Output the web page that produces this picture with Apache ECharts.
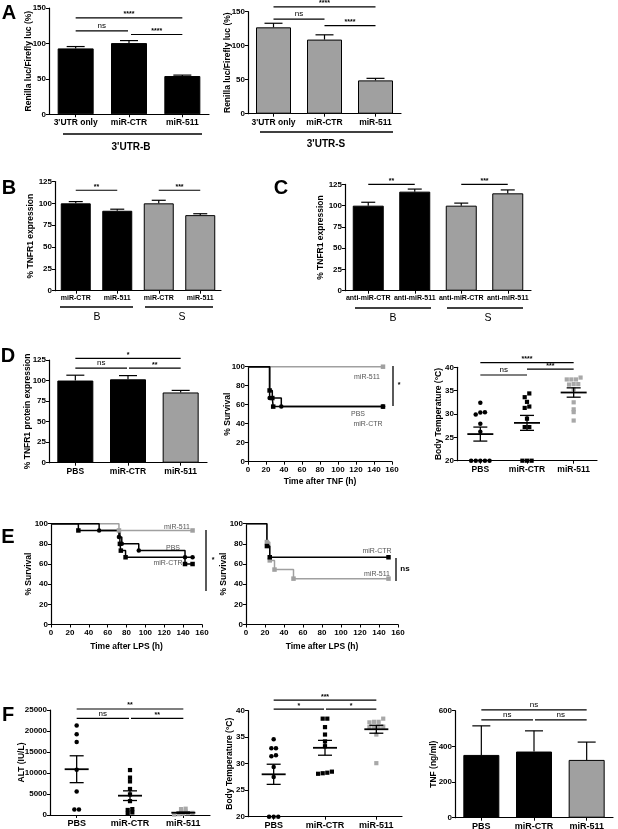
<!DOCTYPE html>
<html><head><meta charset="utf-8">
<script src="https://cdn.jsdelivr.net/npm/echarts/dist/echarts.min.js"></script>
<style>html,body{margin:0;padding:0;background:#fff}#c{width:618px;height:829px}</style>
</head><body><div id="c"></div>
<script>
// ---------- DATA ----------
const catsA = ["3'UTR only", "miR-CTR", "miR-511"];
const aB_vals = [93, 100.5, 54];
const aB_err = [2.6, 3.5, 1.3];
const aS_vals = [127, 109, 49];
const aS_err = [6, 7, 3];

const catsB = ["miR-CTR", "miR-511", "miR-CTR", "miR-511"];
const b_vals = [100, 91.5, 100, 86.5];
const b_err = [2, 1.8, 3.5, 1.6];

const catsC = ["anti-miR-CTR", "anti-miR-511", "anti-miR-CTR", "anti-miR-511"];
const c_vals = [100, 116.5, 100, 114.5];
const c_err = [4, 3, 3, 4];

const catsD = ["PBS", "miR-CTR", "miR-511"];
const d_vals = [100, 101.5, 85.5];
const d_err = [6.5, 4.5, 2.5];

// Kaplan-Meier [time (h), % survival]
const tnf_511 = [[0,100],[150,100]];
const tnf_PBS = [[0,100],[24,75],[27,67],[28,58],[150,58]];
const tnf_CTR = [[0,100],[24,67],[37,58],[150,58]];

const dT_PBS = [32.4, 30.4, 29.9, 30.3, 27.9, 26.2, 20, 20, 20, 20, 20];
const dT_CTR = [34.4, 33.6, 32.6, 31.3, 31.6, 29, 27.2, 27.2, 20, 20, 20];
const dT_511 = [37.8, 37.4, 37.4, 37.4, 36.4, 36.3, 36.4, 35.3, 32.5, 31, 30.4, 28.6];
const dT_mean = [25.7, 28.1, 34.6];
const dT_sem = [1.5, 1.6, 1.0];

const lps_PBS = [[0,100],[51,93.3],[72,86.7],[75,80],[93,73.3],[142,66.7],[150,66.7]];
const lps_CTR = [[0,100],[29,93.3],[73,80],[74,73.3],[79,66.7],[142,60],[150,60]];
const lps_511 = [[0,100],[72,93.3],[150,93.3]];

const lps2_CTR = [[0,100],[22,77.8],[25,66.7],[150,66.7]];
const lps2_511 = [[0,100],[22,81.8],[25,63.6],[30,54.5],[50,45.5],[150,45.5]];

const alt_PBS = [21300, 19200, 17400, 10800, 5600, 1300, 1300];
const alt_CTR = [10700, 8900, 8000, 6200, 4900, 3300, 1200, 600, 1400, 300];
const alt_511 = [1500, 1400, 600, 400, 300, 200, 800, 500, 100];
const alt_mean = [10900, 4600, 550];
const alt_sem = [3200, 1150, 150];

const fT_PBS = [34.6, 32.9, 32.9, 31.6, 31.4, 29.4, 27.5, 20, 20, 20];
const fT_CTR = [38.5, 38.5, 36.9, 35.5, 34.2, 33.3, 28.3, 28.1, 28.2, 28.5];
const fT_511 = [38.5, 37.9, 37.8, 37.9, 37, 36.9, 36.9, 37, 35.5, 30.1];
const fT_mean = [28.0, 33.0, 36.5];
const fT_sem = [1.9, 1.4, 0.75];

const tnfF_vals = [352, 371, 324];
const tnfF_err = [163, 116, 100];

// ---------- STYLE / LAYOUT ----------
const FONT = '"Liberation Sans", Arial, sans-serif';
const BLK = '#000', GRY = '#a0a0a0', GRYPT = '#a8a8a8';
const grids = [
  {left:49, top:8, width:160, height:106.3},
  {left:248, top:11.7, width:153, height:102},
  {left:55, top:181.5, width:166, height:109.2},
  {left:345, top:184.4, width:186, height:106.3},
  {left:49, top:360, width:158, height:102.7},
  {left:248, top:366.7, width:144, height:95},
  {left:457, top:367.3, width:140, height:93.4},
  {left:51, top:523.7, width:151, height:100.8},
  {left:246, top:523.7, width:152, height:100.8},
  {left:50, top:710, width:160, height:105},
  {left:248, top:710.7, width:154, height:106},
  {left:455, top:710.7, width:158, height:107}
].map(g => Object.assign({containLabel:false, outerBoundsMode:'none'}, g));

const axLine = {lineStyle:{color:BLK, width:1.2}};
function catAxis(gi, cats, fs) {
  return {type:'category', gridIndex:gi, data:cats, axisLine:axLine,
    axisTick:{show:true, alignWithLabel:true, length:3, lineStyle:{color:BLK}},
    axisLabel:{color:BLK, fontFamily:FONT, fontWeight:'bold', fontSize:fs, margin:4, interval:0},
    splitLine:{show:false}};
}
function valAxisX(gi, min, max, interval, name, gap) {
  return {type:'value', gridIndex:gi, min, max, interval, axisLine:axLine,
    axisTick:{show:true, length:3, lineStyle:{color:BLK}},
    axisLabel:{color:BLK, fontFamily:FONT, fontWeight:'bold', fontSize:8, margin:4, formatter:v=>String(v)},
    splitLine:{show:false}, name, nameLocation:'middle', nameGap:gap, nameMoveOverlap:false,
    nameTextStyle:{color:BLK, fontFamily:FONT, fontWeight:'bold', fontSize:8.5}};
}
function valAxisY(gi, min, max, interval, name, gap) {
  return {type:'value', gridIndex:gi, min, max, interval, axisLine:{show:true, lineStyle:{color:BLK, width:1.2}},
    axisTick:{show:true, length:3, lineStyle:{color:BLK}},
    axisLabel:{color:BLK, fontFamily:FONT, fontWeight:'bold', fontSize:8, margin:3, formatter:v=>String(v)},
    splitLine:{show:false}, name, nameLocation:'middle', nameGap:gap, nameRotate:90, nameMoveOverlap:false,
    nameTextStyle:{color:BLK, fontFamily:FONT, fontWeight:'bold', fontSize:8.5}};
}

const xAxes = [
  catAxis(0, catsA, 8.5), catAxis(1, catsA, 8.5), catAxis(2, catsB, 7), catAxis(3, catsC, 7),
  catAxis(4, catsD, 8.5), valAxisX(5, 0, 160, 20, 'Time after TNF (h)', 15), catAxis(6, catsD, 8.5),
  valAxisX(7, 0, 160, 20, 'Time after LPS (h)', 18), valAxisX(8, 0, 160, 20, 'Time after LPS (h)', 18),
  catAxis(9, catsD, 9), catAxis(10, catsD, 9), catAxis(11, catsD, 9)
];
const yAxes = [
  valAxisY(0, 0, 150, 50, 'Renilla luc/Firefly luc (%)', 16),
  valAxisY(1, 0, 150, 50, 'Renilla luc/Firefly luc (%)', 16),
  valAxisY(2, 0, 125, 25, '% TNFR1 expression', 20),
  valAxisY(3, 0, 125, 25, '% TNFR1 expression', 20),
  valAxisY(4, 0, 125, 25, '% TNFR1 protein expression', 17),
  valAxisY(5, 0, 100, 20, '% Survival', 16),
  valAxisY(6, 20, 40, 5, 'Body Temperature (°C)', 14),
  valAxisY(7, 0, 100, 20, '% Survival', 18),
  valAxisY(8, 0, 100, 20, '% Survival', 18),
  valAxisY(9, 0, 25000, 5000, 'ALT (IU/L)', 24),
  valAxisY(10, 20, 40, 5, 'Body Temperature (°C)', 14),
  valAxisY(11, 0, 600, 200, 'TNF (ng/ml)', 17)
];

// ---------- SERIES HELPERS ----------
function bars(gi, vals, colors, bw) {
  return {type:'bar', xAxisIndex:gi, yAxisIndex:gi, barWidth:bw, silent:true,
    data: vals.map((v,i)=>({value:v, itemStyle:{color:colors[i], borderColor:BLK, borderWidth:1}}))};
}
function errs(gi, vals, es, cap) {
  return {type:'custom', xAxisIndex:gi, yAxisIndex:gi, silent:true, z:4,
    data: vals.map((v,i)=>[i, v, es[i]]),
    renderItem:(p, api)=>{
      const a = api.coord([api.value(0), api.value(1)]);
      const b = api.coord([api.value(0), api.value(1)+api.value(2)]);
      return {type:'group', children:[
        {type:'line', shape:{x1:a[0], y1:a[1], x2:b[0], y2:b[1]}, style:{stroke:BLK, lineWidth:1.2}},
        {type:'line', shape:{x1:b[0]-cap, y1:b[1], x2:b[0]+cap, y2:b[1]}, style:{stroke:BLK, lineWidth:1.2}}
      ]};
    }};
}
function sig(gi, list) {
  return {type:'custom', xAxisIndex:gi, yAxisIndex:gi, silent:true, z:5,
    data: list.map(s=>[s[0], s[2]]),
    renderItem:(p, api)=>{
      const s = list[p.dataIndex];
      const p1 = api.coord([s[0], s[2]]), p2 = api.coord([s[1], s[2]]);
      const x1 = p1[0] + (s[4]||0), x2 = p2[0] + (s[5]||0);
      const isNs = s[3]==='ns';
      return {type:'group', children:[
        {type:'line', shape:{x1, y1:p1[1], x2, y2:p1[1]}, style:{stroke:BLK, lineWidth:1.2}},
        {type:'text', style:{text:s[3], x:(x1+x2)/2, y:p1[1]-(isNs?1:0), fill:BLK,
          font:(isNs?'normal 8px ':'bold 7px ')+FONT, align:'center', verticalAlign:'bottom',
          textAlign:'center', textVerticalAlign:'bottom'}}
      ]};
    }};
}
function swarm(gi, cat, vals, symbol, color, tol, sp, size) {
  const sorted = vals.slice().sort((a,b)=>a-b);
  const clusters = [];
  sorted.forEach(v=>{
    const c = clusters[clusters.length-1];
    if (c && Math.abs(v - c[0]) <= tol) c.push(v); else clusters.push([v]);
  });
  const data = [];
  clusters.forEach(c=>c.forEach((v,j)=>{
    data.push({value:[cat, v], symbolOffset:[(j-(c.length-1)/2)*sp, 0]});
  }));
  return {type:'scatter', xAxisIndex:gi, yAxisIndex:gi, symbol, symbolSize:size, silent:true, z:3,
    itemStyle:{color, opacity:1}, data};
}
function meanSem(gi, means, sems, hw, sw) {
  return {type:'custom', xAxisIndex:gi, yAxisIndex:gi, silent:true, z:6,
    data: means.map((m,i)=>[i, m, sems[i]]),
    renderItem:(p, api)=>{
      const c = api.coord([api.value(0), api.value(1)]);
      const t = api.coord([api.value(0), api.value(1)+api.value(2)]);
      const b = api.coord([api.value(0), api.value(1)-api.value(2)]);
      const st = {stroke:BLK, lineWidth:1.3};
      return {type:'group', children:[
        {type:'line', shape:{x1:c[0]-hw, y1:c[1], x2:c[0]+hw, y2:c[1]}, style:{stroke:BLK, lineWidth:1.8}},
        {type:'line', shape:{x1:t[0]-sw, y1:t[1], x2:t[0]+sw, y2:t[1]}, style:st},
        {type:'line', shape:{x1:b[0]-sw, y1:b[1], x2:b[0]+sw, y2:b[1]}, style:st},
        {type:'line', shape:{x1:c[0], y1:t[1], x2:c[0], y2:b[1]}, style:st}
      ]};
    }};
}
function km(gi, data, color, symbol) {
  return {type:'line', xAxisIndex:gi, yAxisIndex:gi, step:'end', silent:true, symbol, symbolSize:4.5,
    showAllSymbol:true, lineStyle:{color, width:1.5}, itemStyle:{color},
    data: data.map((d,i)=>i===0 ? {value:d, symbolSize:0} : {value:d})};
}

const series = [
  // A
  bars(0, aB_vals, [BLK,BLK,BLK], 36), errs(0, aB_vals, aB_err, 9),
  sig(0, [[0,2,136,'****'],[0,1,117.6,'ns',0,-1],[1,2,112.6,'****',2,0]]),
  bars(1, aS_vals, [GRY,GRY,GRY], 35), errs(1, aS_vals, aS_err, 9),
  sig(1, [[0,2,157,'****'],[0,1,139,'ns'],[1,2,129.4,'****']]),
  // B
  bars(2, b_vals, [BLK,BLK,GRY,GRY], 30), errs(2, b_vals, b_err, 7),
  sig(2, [[0,1,115,'**'],[2,3,115,'***']]),
  // C
  bars(3, c_vals, [BLK,BLK,GRY,GRY], 31), errs(3, c_vals, c_err, 7),
  sig(3, [[0,1,125,'**'],[2,3,125,'***']]),
  // D left
  bars(4, d_vals, [BLK,BLK,GRY], 36), errs(4, d_vals, d_err, 9),
  sig(4, [[0,2,127,'*'],[0,1,115,'ns',0,-1],[1,2,115,'**',1,0]]),
  // D mid
  km(5, tnf_511, GRY, 'rect'), km(5, tnf_PBS, BLK, 'rect'), km(5, tnf_CTR, BLK, 'circle'),
  // D right
  swarm(6, 0, dT_PBS, 'circle', BLK, 0.7, 4.6, 4.5), swarm(6, 1, dT_CTR, 'rect', BLK, 0.9, 4.6, 4.2),
  swarm(6, 2, dT_511, 'rect', GRYPT, 0.5, 4.6, 4.2), meanSem(6, dT_mean, dT_sem, 13, 7),
  sig(6, [[0,2,41,'****'],[0,1,38.35,'ns'],[1,2,39.6,'***']]),
  // E left
  km(7, lps_511, GRY, 'rect'), km(7, lps_PBS, BLK, 'circle'), km(7, lps_CTR, BLK, 'rect'),
  // E right
  km(8, lps2_511, GRY, 'rect'), km(8, lps2_CTR, BLK, 'rect'),
  // F left
  swarm(9, 0, alt_PBS, 'circle', BLK, 600, 4.6, 4.5), swarm(9, 1, alt_CTR, 'rect', BLK, 600, 4.6, 4.2),
  swarm(9, 2, alt_511, 'rect', GRYPT, 400, 4.6, 4.2), meanSem(9, alt_mean, alt_sem, 12, 7),
  sig(9, [[0,2,25240,'**'],[0,1,23020,'ns',0,-1],[1,2,23020,'**',1,0]]),
  // F mid
  swarm(10, 0, fT_PBS, 'circle', BLK, 0.8, 4.6, 4.5), swarm(10, 1, fT_CTR, 'rect', BLK, 0.8, 4.6, 4.2),
  swarm(10, 2, fT_511, 'rect', GRYPT, 0.8, 4.6, 4.2), meanSem(10, fT_mean, fT_sem, 12, 7),
  sig(10, [[0,2,42,'***'],[0,1,40.3,'*',0,-1],[1,2,40.3,'*',1,0]]),
  // F right
  bars(11, tnfF_vals, [BLK,BLK,GRY], 36), errs(11, tnfF_vals, tnfF_err, 9),
  sig(11, [[0,2,605,'ns'],[0,1,549,'ns',0,-1],[1,2,549,'ns',1,0]])
];

// ---------- ANNOTATIONS ----------
function T(text, x, y, font, fill, align) {
  return {type:'text', silent:true, style:{text, x, y, font, fill:fill||BLK,
    align:align||'center', verticalAlign:'middle', textAlign:align||'center', textVerticalAlign:'middle'}};
}
function L(x1, y1, x2, y2, w) {
  return {type:'line', silent:true, shape:{x1,y1,x2,y2}, style:{stroke:BLK, lineWidth:w||1.3}};
}
const big = 'bold 20px ' + FONT, grp = 'bold 10px ' + FONT, grp2 = 'normal 10.5px ' + FONT, sm = 'normal 7px ' + FONT;
const graphic = [
  T('A', 9, 13, big), T('B', 9, 188, big), T('C', 281, 188, big), T('D', 8, 356, big), T('E', 8, 537, big), T('F', 8, 715, big),
  L(63, 134, 202, 134), T("3'UTR-B", 131, 147, grp),
  L(260, 132, 393, 132), T("3'UTR-S", 326, 144, grp),
  L(60, 307, 133, 307), L(145, 307, 213, 307), T('B', 97, 317, grp2), T('S', 182, 317, grp2),
  L(355, 308, 431, 308), L(447, 308, 523, 308), T('B', 393, 318, grp2), T('S', 488, 318, grp2),
  T('miR-511', 367, 377, sm, '#555'), T('PBS', 358, 414, sm, '#555'), T('miR-CTR', 368, 424, sm, '#555'),
  L(393, 366, 393, 406), T('*', 399, 385, 'bold 7px ' + FONT),
  T('miR-511', 177, 527, sm, '#555'), T('PBS', 173, 548, sm, '#555'), T('miR-CTR', 168, 563, sm, '#555'),
  L(206, 530, 206, 591), T('*', 213, 560, 'bold 7px ' + FONT),
  T('miR-CTR', 377, 551, sm, '#555'), T('miR-511', 377, 574, sm, '#555'),
  L(396, 558, 396, 581), T('ns', 405, 569, 'bold 8px ' + FONT)
];

const chart = echarts.init(document.getElementById('c'), null, {renderer:'canvas'});
chart.setOption({animation:false, backgroundColor:'#fff', grid:grids, xAxis:xAxes, yAxis:yAxes, series, graphic});
</script></body></html>
